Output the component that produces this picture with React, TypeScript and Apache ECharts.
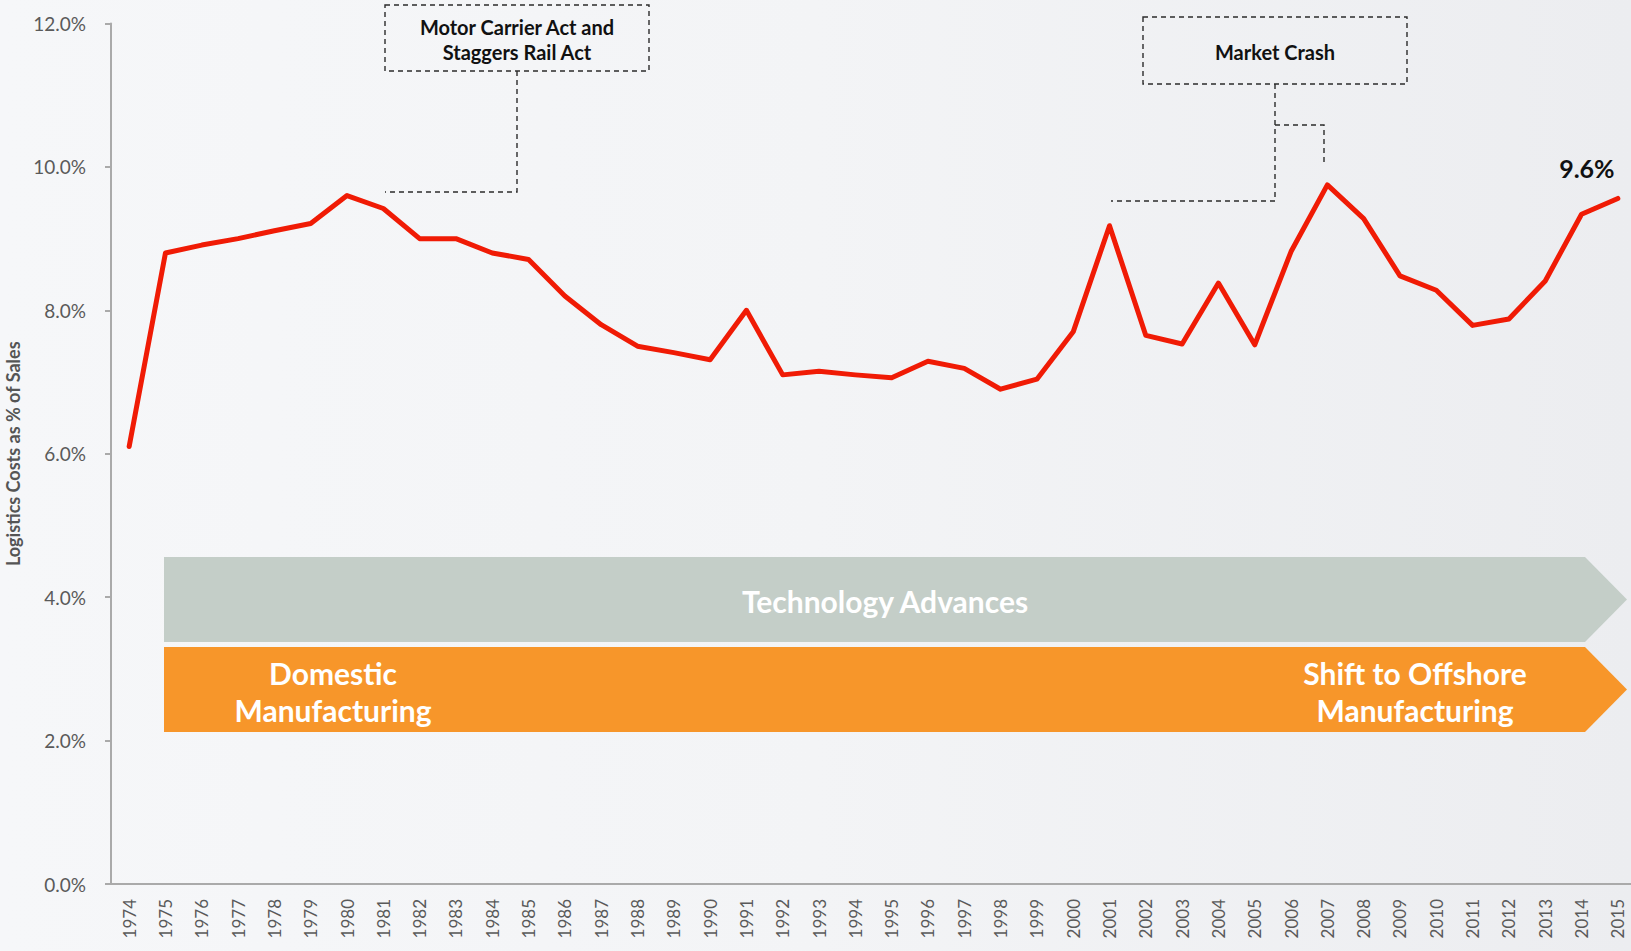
import React, { useEffect, useRef } from "react";
import * as echarts from "echarts";

const years = [
  "1974", "1975", "1976", "1977", "1978", "1979", "1980", "1981", "1982", "1983",
  "1984", "1985", "1986", "1987", "1988", "1989", "1990", "1991", "1992", "1993",
  "1994", "1995", "1996", "1997", "1998", "1999", "2000", "2001", "2002", "2003",
  "2004", "2005", "2006", "2007", "2008", "2009", "2010", "2011", "2012", "2013",
  "2014", "2015",
];

const logisticsCostPct = [
  6.1, 8.8, 8.91, 9.0, 9.11, 9.21, 9.6, 9.42, 9.0, 9.0,
  8.8, 8.71, 8.2, 7.8, 7.5, 7.41, 7.31, 8.0, 7.1, 7.15,
  7.1, 7.06, 7.29, 7.19, 6.9, 7.04, 7.7, 9.18, 7.65, 7.53,
  8.38, 7.52, 8.82, 9.75, 9.28, 8.48, 8.28, 7.79, 7.88, 8.41,
  9.34, 9.56,
];

const yTicks = { min: 0, max: 12, interval: 2 };

const FONT = "Lato, 'Open Sans', sans-serif";

export default function App() {
  const ref = useRef<HTMLDivElement>(null);

  useEffect(() => {
    if (!ref.current) return;
    const chart = echarts.init(ref.current, null, { renderer: "svg" });

    const dashStyle = {
      stroke: "#2b2b2b",
      lineWidth: 1.4,
      lineDash: [5, 4],
      fill: null,
    };

    chart.setOption({
      animation: false,
      backgroundColor: "transparent",
      grid: {
        left: 111,
        right: -5,
        top: 23.5,
        bottom: 67,
        containLabel: false,
        outerBoundsMode: "none",
      },
      xAxis: {
        type: "category",
        data: years,
        boundaryGap: true,
        axisLine: { show: true, lineStyle: { color: "#AAAAAA", width: 2 } },
        axisTick: { show: false },
        axisLabel: {
          rotate: 90,
          interval: 0,
          margin: 15,
          color: "#5A5A5A",
          fontFamily: FONT,
          fontSize: 17,
        },
        splitLine: { show: false },
      },
      yAxis: {
        type: "value",
        min: yTicks.min,
        max: yTicks.max,
        interval: yTicks.interval,
        name: "Logistics Costs as % of Sales",
        nameLocation: "middle",
        nameRotate: 90,
        nameGap: 89,
        nameTextStyle: {
          fontFamily: FONT,
          fontWeight: "bold",
          fontSize: 18,
          color: "#555555",
        },
        axisLine: { show: true, lineStyle: { color: "#AAAAAA", width: 2 } },
        axisTick: { show: true, length: 6, lineStyle: { color: "#AAAAAA", width: 2 } },
        axisLabel: {
          margin: 25,
          color: "#5A5A5A",
          fontFamily: FONT,
          fontSize: 19,
          formatter: (v: number) => `${v.toFixed(1)}%`,
        },
        splitLine: { show: false },
      },
      series: [
        {
          type: "line",
          data: logisticsCostPct,
          symbol: "none",
          z: 5,
          lineStyle: { color: "#F01B05", width: 5, cap: "round", join: "round" },
          endLabel: {
            show: true,
            formatter: (p: any) => `${Number(p.value).toFixed(1)}%`,
            align: "center",
            verticalAlign: "bottom",
            distance: 0,
            offset: [-31, -18],
            fontFamily: FONT,
            fontWeight: "bold",
            fontSize: 25,
            color: "#111111",
          },
        },
      ],
      graphic: [
        {
          type: "polygon",
          z: 1,
          shape: {
            points: [
              [164, 557],
              [1585, 557],
              [1627, 599.5],
              [1585, 642],
              [164, 642],
            ],
          },
          style: { fill: "#C4CEC8" },
        },
        {
          type: "polygon",
          z: 1,
          shape: {
            points: [
              [164, 647],
              [1585, 647],
              [1627, 689.5],
              [1585, 732],
              [164, 732],
            ],
          },
          style: { fill: "#F7962A" },
        },
        {
          type: "text",
          z: 2,
          x: 885,
          y: 601,
          style: {
            text: "Technology Advances",
            fill: "#FFFFFF",
            font: `bold 30px ${FONT}`,
            textAlign: "center",
            textVerticalAlign: "middle",
          },
        },
        {
          type: "text",
          z: 2,
          x: 333,
          y: 691,
          style: {
            text: "Domestic\nManufacturing",
            fill: "#FFFFFF",
            font: `bold 30px ${FONT}`,
            lineHeight: 37,
            textAlign: "center",
            textVerticalAlign: "middle",
          },
        },
        {
          type: "text",
          z: 2,
          x: 1415,
          y: 691,
          style: {
            text: "Shift to Offshore\nManufacturing",
            fill: "#FFFFFF",
            font: `bold 30px ${FONT}`,
            lineHeight: 37,
            textAlign: "center",
            textVerticalAlign: "middle",
          },
        },
        {
          type: "rect",
          z: 2,
          shape: { x: 385, y: 5, width: 264, height: 66 },
          style: { ...dashStyle },
        },
        {
          type: "text",
          z: 2,
          x: 517,
          y: 39,
          style: {
            text: "Motor Carrier Act and\nStaggers Rail Act",
            fill: "#111111",
            font: `bold 20px ${FONT}`,
            lineHeight: 25,
            textAlign: "center",
            textVerticalAlign: "middle",
          },
        },
        {
          type: "polyline",
          z: 2,
          shape: {
            points: [
              [517, 71],
              [517, 192],
              [385, 192],
            ],
          },
          style: { ...dashStyle },
        },
        {
          type: "rect",
          z: 2,
          shape: { x: 1143, y: 17, width: 264, height: 67 },
          style: { ...dashStyle },
        },
        {
          type: "text",
          z: 2,
          x: 1275,
          y: 52,
          style: {
            text: "Market Crash",
            fill: "#111111",
            font: `bold 20px ${FONT}`,
            textAlign: "center",
            textVerticalAlign: "middle",
          },
        },
        {
          type: "polyline",
          z: 2,
          shape: {
            points: [
              [1275, 84],
              [1275, 201],
              [1111, 201],
            ],
          },
          style: { ...dashStyle },
        },
        {
          type: "polyline",
          z: 2,
          shape: {
            points: [
              [1275, 125],
              [1324, 125],
              [1324, 166],
            ],
          },
          style: { ...dashStyle },
        },
      ],
    });

    return () => chart.dispose();
  }, []);

  return (
    <div
      ref={ref}
      style={{
        position: "absolute",
        left: 0,
        top: 0,
        width: 1631,
        height: 951,
        background: "linear-gradient(90deg, #F6F7F9 0%, #F3F4F6 50%, #ECEDF0 100%)",
      }}
    />
  );
}
